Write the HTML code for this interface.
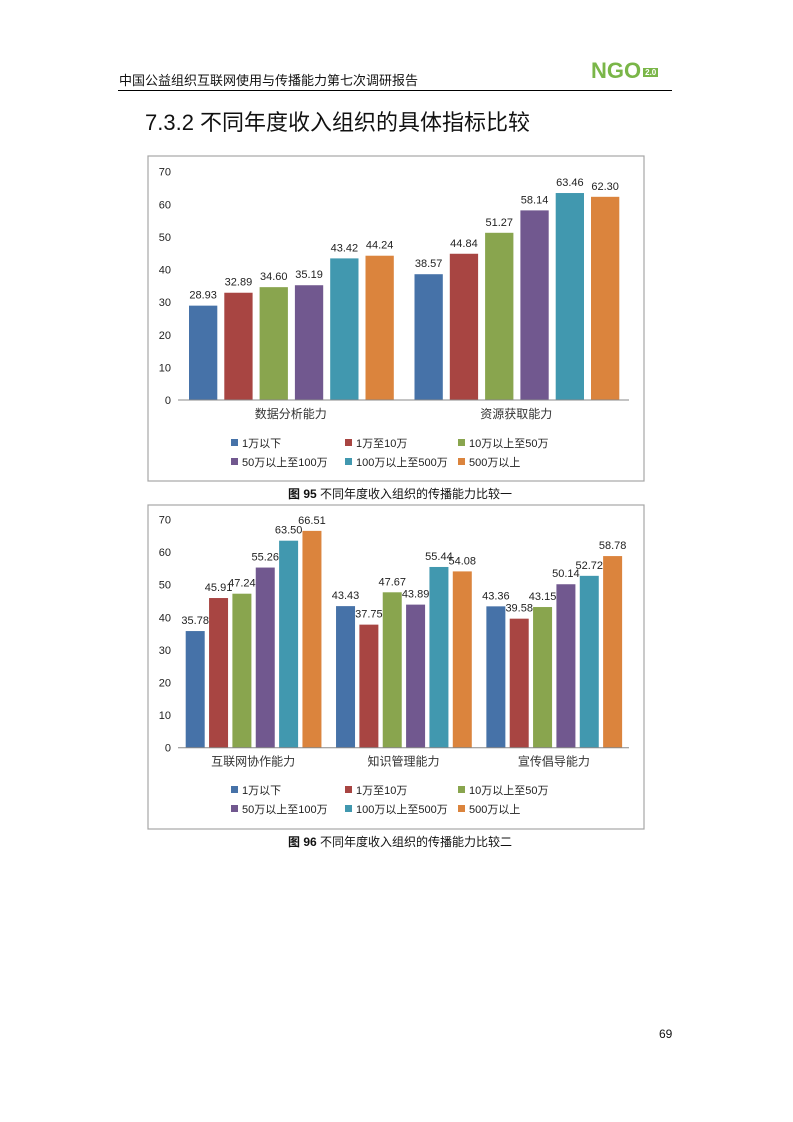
<!DOCTYPE html>
<html><head><meta charset="utf-8">
<style>
body{margin:0;background:#fff;width:793px;height:1122px;position:relative;overflow:hidden;font-family:"Liberation Sans","Noto Sans CJK SC",sans-serif}
.abs{position:absolute;white-space:nowrap}
svg text{font-family:"Liberation Sans","Noto Sans CJK SC",sans-serif}
</style></head><body>
<div class="abs" style="left:119px;top:70px;font-size:13px;color:#111">中国公益组织互联网使用与传播能力第七次调研报告</div>
<div class="abs" style="left:591px;top:58px;font-size:22px;font-weight:bold;color:#7ab648">NG<span style="color:#7ab648">O</span><span style="font-size:8px;background:#7ab648;color:#fff;padding:0 2px;margin-left:2px;vertical-align:3px">2.0</span></div>
<div class="abs" style="left:118px;top:90px;width:554px;height:1px;background:#000"></div>
<div class="abs" style="left:145px;top:105px;font-size:22px;color:#111">7.3.2 不同年度收入组织的具体指标比较</div>
<svg id="c1" class="abs" style="left:0;top:0" width="793" height="1122"></svg>
<div class="abs" style="left:288px;top:485px;font-size:12px;color:#111"><b>图 95</b> 不同年度收入组织的传播能力比较一</div>
<div class="abs" style="left:288px;top:833px;font-size:12px;color:#111"><b>图 96</b> 不同年度收入组织的传播能力比较二</div>
<div class="abs" style="left:659px;top:1027px;font-size:12px;color:#111">69</div>
<script>
const series = ["1万以下","1万至10万","10万以上至50万","50万以上至100万","100万以上至500万","500万以上"];
const colors = ["#4672a8","#a84542","#89a54e","#71588f","#4198af","#db843d"];
const ticks = [0,10,20,30,40,50,60,70];
const cats1 = ["数据分析能力","资源获取能力"];
const vals1 = [[28.93,38.57],[32.89,44.84],[34.60,51.27],[35.19,58.14],[43.42,63.46],[44.24,62.30]];
const cats2 = ["互联网协作能力","知识管理能力","宣传倡导能力"];
const vals2 = [[35.78,43.43,43.36],[45.91,37.75,39.58],[47.24,47.67,43.15],[55.26,43.89,50.14],[63.50,55.44,52.72],[66.51,54.08,58.78]];
const NS="http://www.w3.org/2000/svg";
const svg=document.getElementById('c1');
function mk(t,a,txt){const e=document.createElementNS(NS,t);for(const k in a)e.setAttribute(k,a[k]);if(txt!==undefined)e.textContent=txt;svg.appendChild(e);return e;}
function chart(cfg,cats,vals){
  const {fx,fy,fw,fh,x0,x1,y0,y70,offset,step,bw,legY}=cfg;
  const fr=mk('rect',{x:fx,y:fy,width:fw,height:fh,fill:'#fff',stroke:'#a6a6a6','stroke-width':1.2});
  
  
  const ys=v=>y0-(v/70)*(y0-y70);
  const cw=(x1-x0)/cats.length;
  ticks.forEach(t=>{
    const tx=mk('text',{x:171,y:ys(t)+4,'font-size':11,'text-anchor':'end',fill:'#222'},String(t));
    
    
  });
  cats.forEach((c,i)=>{
    vals.forEach((sv,s)=>{
      const v=sv[i];
      const x=x0+i*cw+offset+s*step;
      const r=mk('rect',{x:x,y:ys(v),width:bw,height:y0-ys(v),fill:colors[s]});
      
      
      const l=mk('text',{x:x+bw/2,y:ys(v)-7,'font-size':11,'text-anchor':'middle',fill:'#222'},v.toFixed(2));
      
      
    });
    const cl=mk('text',{x:x0+i*cw+cw/2,y:y0+18,'font-size':12,'text-anchor':'middle',fill:'#333'},c);
    
    
  });
  const ax=mk('line',{x1:x0,x2:x1,y1:y0,y2:y0,stroke:'#888','stroke-width':1});
  
  
  const colX=[231,345,458];
  series.forEach((s,i)=>{
    const lx=colX[i%3], ly=legY+Math.floor(i/3)*19;
    const sq=mk('rect',{x:lx,y:ly-4,width:7,height:7,fill:colors[i]});
    
    
    const t=mk('text',{x:lx+11,y:ly+4,'font-size':11,fill:'#222'},s);
    
    
  });
}
chart({fx:148,fy:156,fw:496,fh:325,x0:178,x1:629,y0:400,y70:171.7,offset:11,step:35.3,bw:28.3,legY:443},cats1,vals1);
chart({fx:148,fy:505,fw:496,fh:324,x0:178,x1:629,y0:747.7,y70:519.5,offset:7.7,step:23.35,bw:19,legY:790},cats2,vals2);
</script>
</body></html>
